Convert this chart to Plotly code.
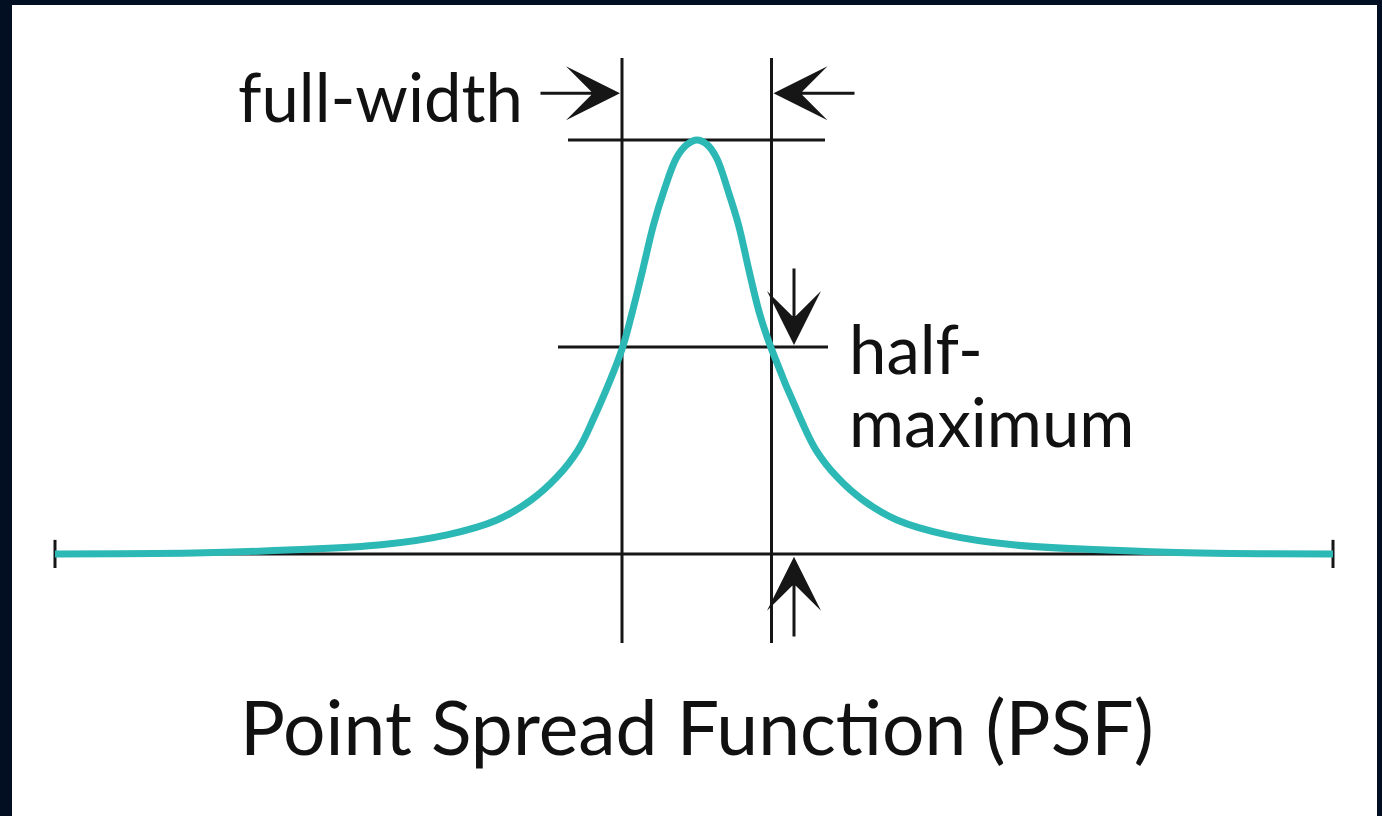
import plotly.graph_objects as go

# PSF profile (x in arbitrary units, intensity normalised to the peak)
psf_x = [-12.84, -10.06, -8.06, -6.32, -5.0, -4.0, -3.32, -2.8, -2.38, -2.08, -1.5, -1.31, -1.11,
         -0.87, -0.67, -0.41, -0.2, 0.0, 0.2, 0.39, 0.63, 0.83, 1.06, 1.26, 1.49, 2.08, 2.38,
         2.8, 3.32, 4.0, 5.0, 6.32, 8.06, 10.06, 12.72]
psf_y = [0.0, 0.002, 0.010, 0.022, 0.046, 0.082, 0.130, 0.186, 0.251, 0.324, 0.495, 0.577, 0.674,
         0.795, 0.874, 0.957, 0.989, 1.0, 0.989, 0.957, 0.874, 0.795, 0.674, 0.577, 0.495, 0.324, 0.251,
         0.186, 0.130, 0.082, 0.046, 0.022, 0.010, 0.002, 0.0]

peak = 1.0
half_max = 0.5
fwhm_left = -1.5
fwhm_right = 1.49
base_start = -12.84
base_end = 12.72

line_col = "#161616"
curve_col = "#2cb8b5"
text_col = "#111111"

fig = go.Figure()

# reference lines: baseline with end ticks, half-maximum, peak, FWHM verticals
fig.add_trace(go.Scatter(x=[base_start, base_end], y=[0, 0], mode="lines",
                         line=dict(color=line_col, width=3), hoverinfo="skip"))
for xe in [base_start, base_end]:
    fig.add_trace(go.Scatter(x=[xe, xe], y=[-0.034, 0.034], mode="lines",
                             line=dict(color=line_col, width=3), hoverinfo="skip"))
fig.add_trace(go.Scatter(x=[fwhm_left - 1.28, fwhm_right + 1.13], y=[half_max, half_max], mode="lines",
                         line=dict(color=line_col, width=3), hoverinfo="skip"))
fig.add_trace(go.Scatter(x=[fwhm_left - 1.08, fwhm_right + 1.07], y=[peak, peak], mode="lines",
                         line=dict(color=line_col, width=3), hoverinfo="skip"))
for xv in [fwhm_left, fwhm_right]:
    fig.add_trace(go.Scatter(x=[xv, xv], y=[-0.215, 1.198], mode="lines",
                             line=dict(color=line_col, width=3), hoverinfo="skip"))

# the PSF curve
fig.add_trace(go.Scatter(x=psf_x, y=psf_y, mode="lines",
                         line=dict(color=curve_col, width=7, shape="spline", smoothing=1.0),
                         hoverinfo="skip"))

# arrows
arr = dict(showarrow=True, arrowhead=3, arrowsize=3.0, arrowwidth=3, arrowcolor=line_col,
           axref="x", ayref="y", xref="x", yref="y", text="")
fig.add_annotation(x=fwhm_left - 0.04, y=1.113, ax=fwhm_left - 1.66, ay=1.113, **arr)
fig.add_annotation(x=fwhm_right + 0.04, y=1.113, ax=fwhm_right + 1.69, ay=1.113, **arr)
fig.add_annotation(x=fwhm_right + 0.45, y=half_max + 0.005, ax=fwhm_right + 0.45, ay=half_max + 0.193, **arr)
fig.add_annotation(x=fwhm_right + 0.45, y=-0.007, ax=fwhm_right + 0.45, ay=-0.203, **arr)

# labels
txt = dict(showarrow=False, xref="x", yref="y", xanchor="left", yanchor="middle",
           font=dict(family="Lato", size=67, color=text_col))
fig.add_annotation(x=-9.22, y=1.105, text="full-width", **txt)
fig.add_annotation(x=3.0, y=0.497, text="half-", **txt)
fig.add_annotation(x=3.0, y=0.32, text="maximum", **txt)
fig.add_annotation(x=0.0, y=-0.415, text="Point Spread Function (PSF)", xanchor="center", yanchor="middle",
                   showarrow=False, xref="x", yref="y", font=dict(family="Lato", size=75, color=text_col))

fig.update_layout(
    width=1382, height=816,
    margin=dict(l=12, r=5, t=5, b=0),
    paper_bgcolor="#020f22",
    plot_bgcolor="#ffffff",
    showlegend=False,
    xaxis=dict(range=[-13.7, 13.6], visible=False, fixedrange=True),
    yaxis=dict(range=[-0.633, 1.326], visible=False, fixedrange=True),
)

# drop the browser's default body margin so the figure fills the window
fig.write_html("out.html", config={"displayModeBar": False},
               post_script="document.body.style.margin='0';")
